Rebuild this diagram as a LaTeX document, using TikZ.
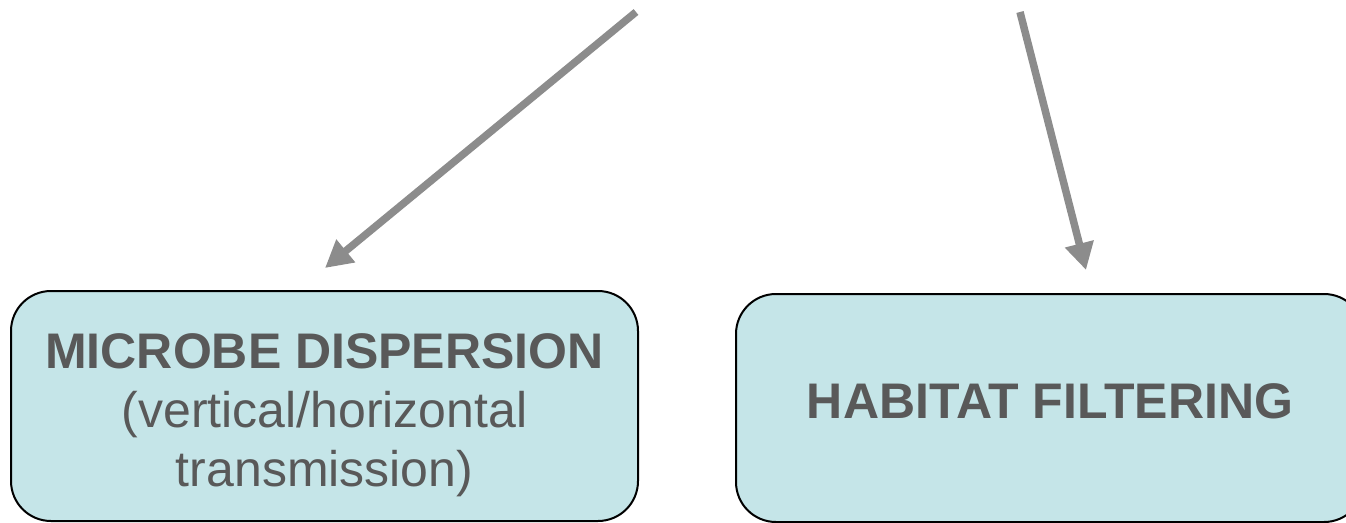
\documentclass[tikz,border=0pt]{standalone}
\usepackage{fontspec}
\setmainfont{Liberation Sans}
\usepackage{xcolor}
\definecolor{Pale Aqua}{HTML}{c5e5e8}
\definecolor{Slate Ink}{HTML}{595959}
\definecolor{Arrow Grey}{HTML}{8c8c8c}
\colorlet{cBox}{Pale Aqua}
\colorlet{cText}{Slate Ink}
\colorlet{cArrow}{Arrow Grey}
\usetikzlibrary{arrows.meta}
\tikzset{
	font = \fontsize{50}{59}\selectfont,
	process/.style={
		draw,
		fill=cBox,
		text=cText,
		rounded corners=40pt,
		line width=2pt,
		align=center,
		inner sep=0pt
	},
	driver/.style={
		draw=cArrow,
		line width=7.5pt,
		arrows = {-Triangle[length=27pt, width=28pt]}
	}
}

\begin{document}
\begin{tikzpicture}[x=1pt, y=-1pt]
		% ---
% frame
% ---
\useasboundingbox (0,0) rectangle (1346,522);
\clip (0,0) rectangle (1346,522);

\node[process, minimum width=627pt, minimum height=230pt, text height=172pt] at (324.5,406) (dispersion) {\textbf{MICROBE DISPERSION}\\(vertical/horizontal\\transmission)};
\node[process, minimum width=628pt, minimum height=228pt, text depth=13pt] at (1050,408) (filtering) {\textbf{HABITAT FILTERING}};

\coordinate (src-l) at (636,12);
\coordinate (tip-l) at (325,268);
\coordinate (src-r) at (1020,12);
\coordinate (tip-r) at (1086,270);

\draw[driver] (src-l) to (tip-l);
\draw[driver] (src-r) to (tip-r);
	\end{tikzpicture}
\end{document}
